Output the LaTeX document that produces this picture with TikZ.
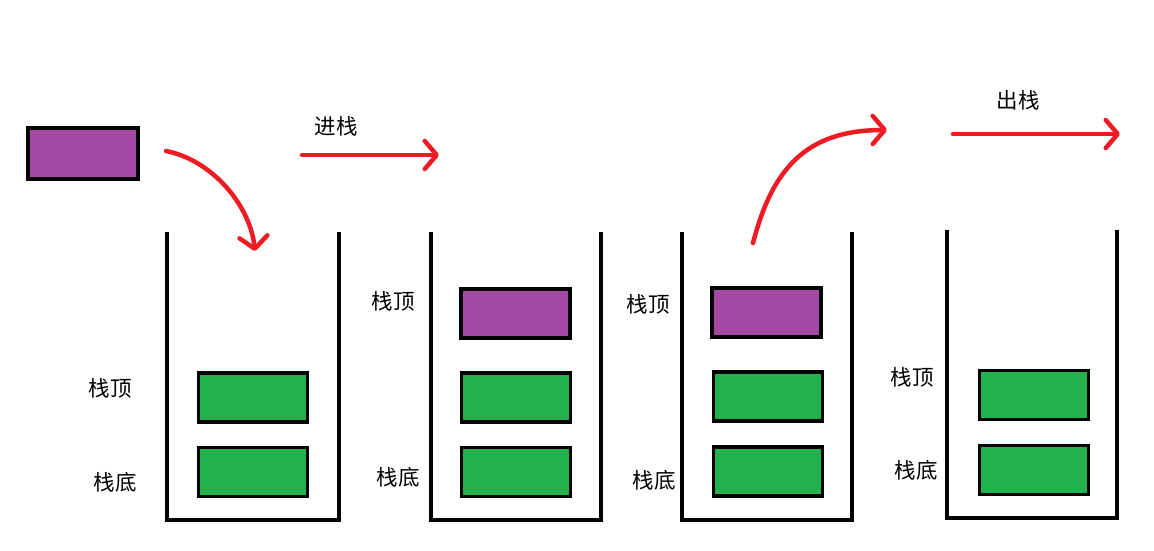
\documentclass[tikz,border=0pt]{standalone}
\usepackage{fontspec}
\newfontfamily\cjk{Noto Sans CJK SC}
\usetikzlibrary{arrows.meta}
\definecolor{pgreen}{HTML}{22B14C}
\definecolor{ppurple}{HTML}{A349A4}
\definecolor{pred}{HTML}{ED1C24}
\tikzset{
  box/.style={draw=black, line width=3.5pt, inner sep=0pt, minimum width=109pt, minimum height=49pt},
  gbox/.style={box, fill=pgreen},
  pbox/.style={box, fill=ppurple},
  wall/.style={draw=black, line width=4pt},
  lbl/.style={font=\cjk\fontsize{21.5}{24}\selectfont, inner sep=0pt},
  redarrow/.style={draw=pred, line width=4.5pt, line cap=round, line join=round,
    -{Straight Barb[length=12pt, width=28pt, line width=4.5pt, round]}}
}
\begin{document}
\begin{tikzpicture}[x=1pt, y=-1pt]
\useasboundingbox (0,0) rectangle (1154,550);
% loose purple element
\node[pbox, minimum width=110pt, minimum height=51pt] (p0) at (83,153.5) {};
% stacks (containers)
\draw[wall] (167,232) -- (167,520) -- (339,520) -- (339,232);
\draw[wall] (431,232) -- (431,520) -- (601,520) -- (601,232);
\draw[wall] (682,232) -- (682,520) -- (852,520) -- (852,232);
\draw[wall] (947,230) -- (947,518) -- (1117,518) -- (1117,230);
% stack 1
\node[gbox] (s1a) at (253,397.5) {};
\node[gbox] (s1b) at (253,472) {};
\node[lbl] (t1) at (110,388) {栈顶};
\node[lbl] (b1) at (115,482) {栈底};
% stack 2
\node[pbox] (s2p) at (515.5,313.5) {};
\node[gbox] (s2a) at (516,397.5) {};
\node[gbox] (s2b) at (516,472) {};
\node[lbl] (t2) at (393,301) {栈顶};
\node[lbl] (b2) at (398,477) {栈底};
% stack 3
\node[pbox] (s3p) at (766.5,312.5) {};
\node[gbox] (s3a) at (768,396.5) {};
\node[gbox] (s3b) at (768,471.5) {};
\node[lbl] (t3) at (648,304) {栈顶};
\node[lbl] (b3) at (654,480) {栈底};
% stack 4
\node[gbox] (s4a) at (1034,395) {};
\node[gbox] (s4b) at (1034,470) {};
\node[lbl] (t4) at (912,377) {栈顶};
\node[lbl] (b4) at (916,470) {栈底};
% captions
\node[lbl] (push) at (336,126) {进栈};
\node[lbl] (pop) at (1018,100) {出栈};
% arrows
\coordinate (a1s) at (166,151);
\coordinate (a1e) at (255,251);
\draw[redarrow] (a1s) .. controls (212,160) and (250,205) .. (a1e);
\coordinate (a2s) at (302,155);
\coordinate (a2e) at (439,155);
\draw[redarrow] (a2s) -- (a2e);
\coordinate (a3s) at (753,243);
\coordinate (a3e) at (887,130);
\draw[redarrow] (a3s) .. controls (772,170) and (805,130) .. (a3e);
\coordinate (a4s) at (953,134);
\coordinate (a4e) at (1120,134);
\draw[redarrow] (a4s) -- (a4e);
\end{tikzpicture}
\end{document}
